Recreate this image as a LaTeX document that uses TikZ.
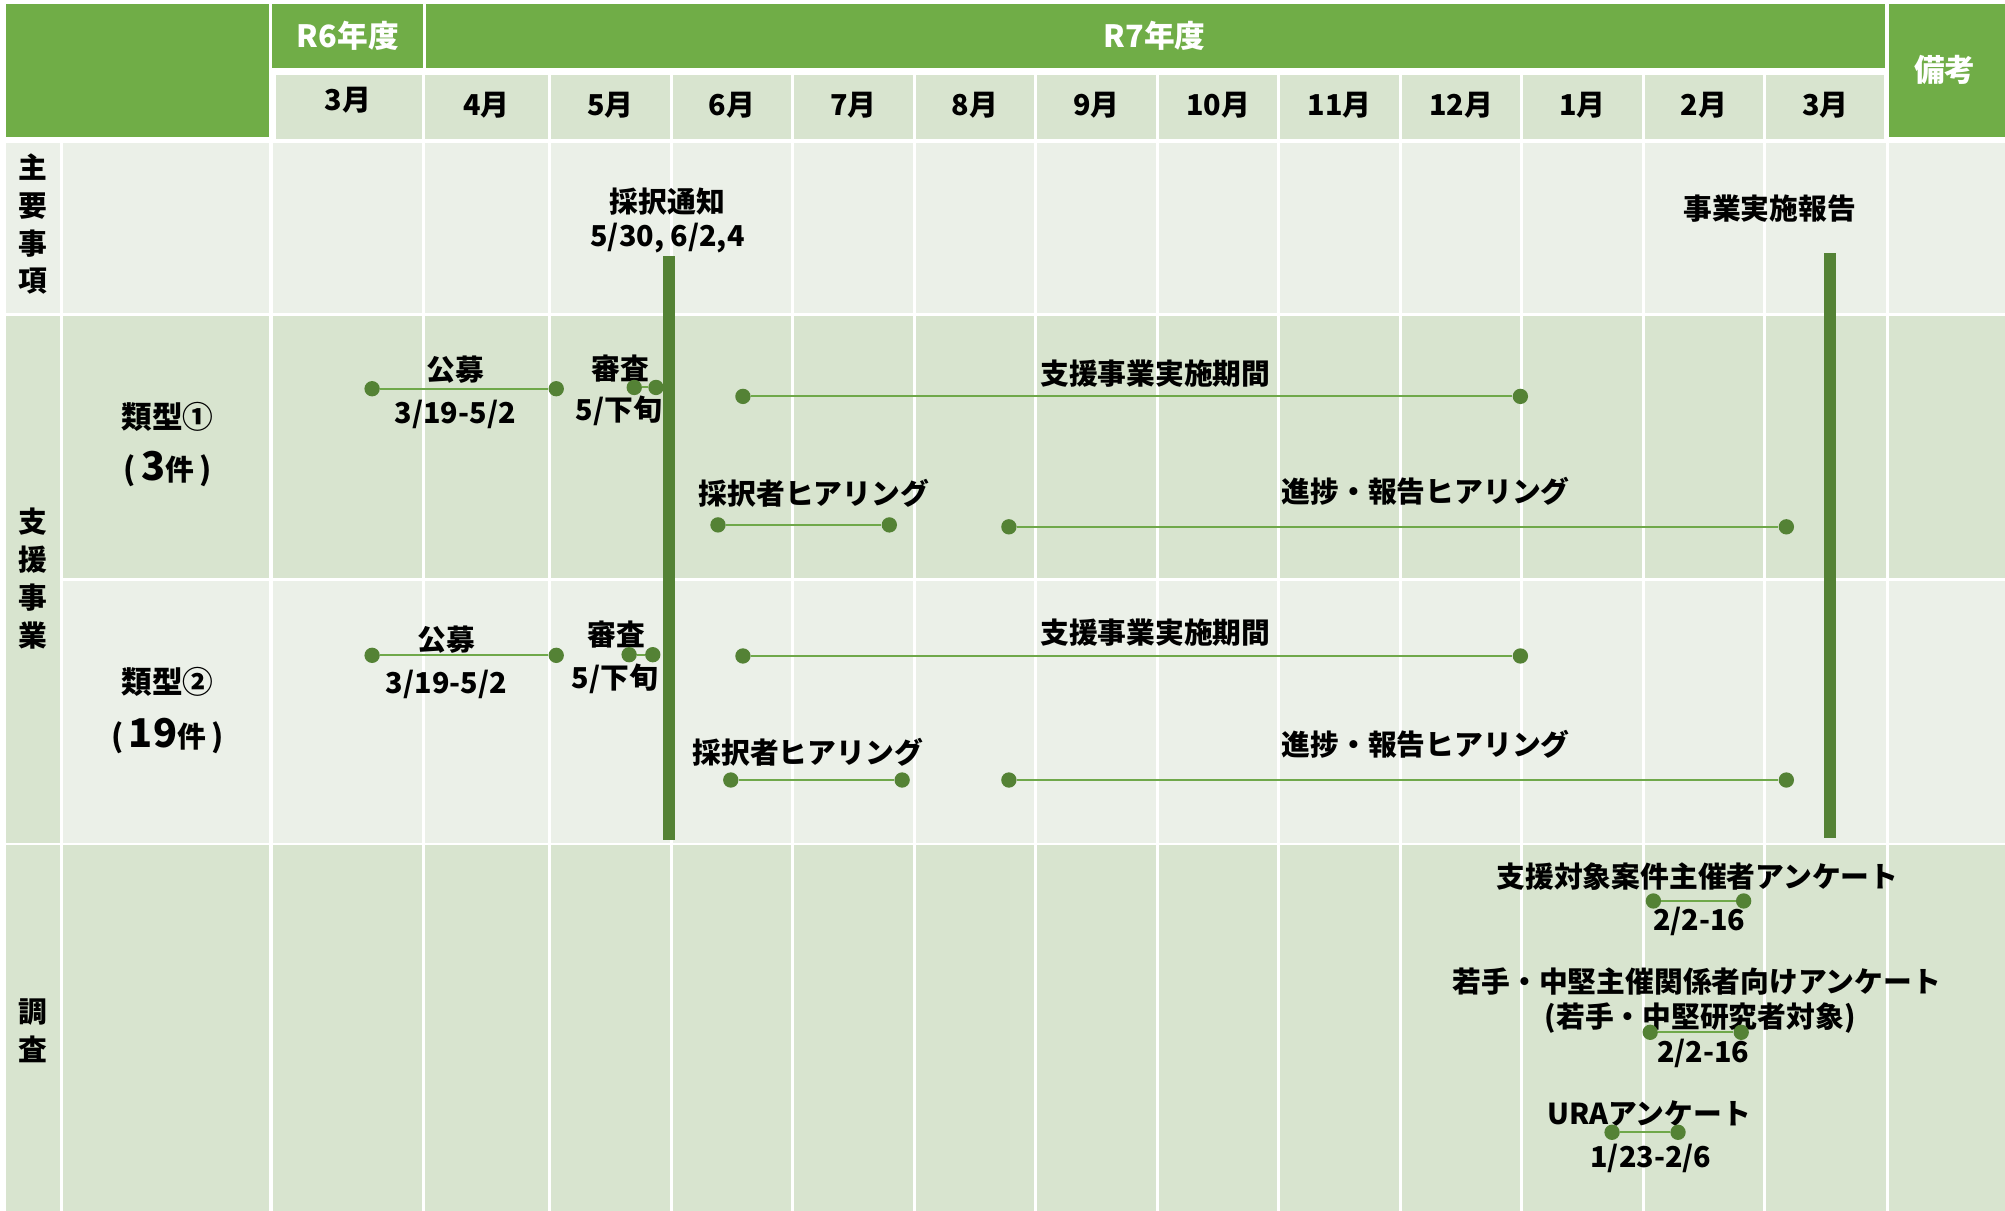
\documentclass[tikz,border=0pt]{standalone}
\usepackage{fontspec}
\setmainfont{Noto Sans CJK JP}
\definecolor{hdrg}{HTML}{70AD47}
\definecolor{medc}{HTML}{D8E4CF}
\definecolor{lightc}{HTML}{EBF0E8}
\definecolor{dkg}{HTML}{548235}
\definecolor{lng}{HTML}{6FA84A}
\tikzset{
  lbl/.style={font=\fontsize{22.5}{26}\selectfont\bfseries, inner sep=0pt, anchor=center, text=black},
  hdr/.style={lbl, text=white, font=\fontsize{24}{28}\selectfont\bfseries},
  mon/.style={lbl},
  vlbl/.style={inner sep=0pt, align=center, font=\fontsize{22.5}{29.5}\selectfont\bfseries},
  dot/.style={circle, fill=dkg, inner sep=0pt, minimum size=12pt},
  span/.style={draw=lng, line width=1.6pt},
  gridw/.style={draw=white, line width=2.5pt},
}
\begin{document}
\begin{tikzpicture}[x=1pt,y=-1pt]
\useasboundingbox (0,0) rectangle (1568,947);
\fill[white] (0,0) rectangle (1568,947);
% header cells
\fill[hdrg] (5,3) rectangle (210,107);
\fill[hdrg] (213,3) rectangle (331,53);
\fill[hdrg] (333,3) rectangle (1474,53);
\fill[hdrg] (1477,3) rectangle (1568,107);
\fill[medc] (216,59) rectangle (1473,109);
% body rows
\fill[lightc] (5,112) rectangle (1568,245);
\fill[medc] (5,247) rectangle (1568,452);
\fill[lightc] (49,454) rectangle (1568,659);
\fill[medc] (5,452) rectangle (47,659);
\fill[medc] (5,661) rectangle (1568,947);
% grid lines
\foreach \x in {331.5,430,525,620,715,810,905,1000,1095,1190,1285,1380}
  \draw[gridw] (\x,59) -- (\x,947);
\foreach \x in {48,212,1476}
  \draw[gridw] (\x,112) -- (\x,947);
% header texts
\node[hdr] (r6) at (272,28) {R6年度};
\node[hdr] (r7) at (903,28) {R7年度};
\node[hdr] (biko) at (1521,55) {備考};
\node[mon] (m3a) at (272,78) {3月};
\node[mon] (m4) at (380.5,82.5) {4月};
\node[mon] (m5) at (477.5,82.5) {5月};
\node[mon] (m6) at (572.5,82.5) {6月};
\node[mon] (m7) at (667.5,82.5) {7月};
\node[mon] (m8) at (762.5,82.5) {8月};
\node[mon] (m9) at (857.5,82.5) {9月};
\node[mon] (m10) at (952.5,82.5) {10月};
\node[mon] (m11) at (1047.5,82.5) {11月};
\node[mon] (m12) at (1142.5,82.5) {12月};
\node[mon] (m1) at (1237.5,82.5) {1月};
\node[mon] (m2) at (1332.5,82.5) {2月};
\node[mon] (m3b) at (1427.5,82.5) {3月};
% left labels
\node[vlbl] (shuyo) at (26,175.5) {主\\要\\事\\項};
\node[vlbl] (shien) at (26,452.5) {支\\援\\事\\業};
\node[vlbl] (chosa) at (26,806) {調\\査};
\node[lbl, font=\fontsize{24}{28}\selectfont\bfseries] (t1) at (131,326) {類型①};
\node[lbl] (t1n) at (131,367) {\fontsize{24}{28}\selectfont(\,\fontsize{31}{31}\selectfont 3\fontsize{22.5}{26}\selectfont 件\fontsize{24}{28}\selectfont\,)};
\node[lbl, font=\fontsize{24}{28}\selectfont\bfseries] (t2) at (131,533.5) {類型②};
\node[lbl] (t2n) at (131,575.5) {\fontsize{24}{28}\selectfont(\,\fontsize{31}{31}\selectfont 19\fontsize{22.5}{26}\selectfont 件\fontsize{24}{28}\selectfont\,)};
% main items
\node[lbl] (tsuchi) at (522,158) {採択通知};
\node[lbl] (tsuchid) at (522,186) {5/30, 6/2,4};
\node[lbl] (hokoku) at (1384,163) {事業実施報告};
\fill[dkg] (518.5,200) rectangle (527.5,657);
\fill[dkg] (1426.5,198) rectangle (1435.5,655);
% row 1
\node[lbl] (k1l) at (356,289) {公募};
\node[lbl] (k1d) at (356,324) {3/19-5/2};
\node[lbl] (s1l) at (485,288) {審査};
\node[lbl] (s1d) at (484,321.5) {5/下旬};
\node[lbl] (j1l) at (903.5,292.5) {支援事業実施期間};
\node[lbl] (h1l) at (636.5,385.5) {採択者ヒアリング};
\node[lbl] (p1l) at (1115,384) {進捗・報告ヒアリング};
\node[dot] (k1a) at (291,304) {};
\node[dot] (k1b) at (435,304) {};
\draw[span] (k1a) -- (k1b);
\node[dot] (s1a) at (496,303) {};
\node[dot] (s1b) at (513,303) {};
\draw[span] (s1a) -- (s1b);
\node[dot] (j1a) at (581,310) {};
\node[dot] (j1b) at (1189,310) {};
\draw[span] (j1a) -- (j1b);
\node[dot] (h1a) at (561.5,410.5) {};
\node[dot] (h1b) at (695.5,410.5) {};
\draw[span] (h1a) -- (h1b);
\node[dot] (p1a) at (789,412) {};
\node[dot] (p1b) at (1397,412) {};
\draw[span] (p1a) -- (p1b);
% row 2
\node[lbl] (k2l) at (349,500) {公募};
\node[lbl] (k2d) at (349,535) {3/19-5/2};
\node[lbl] (s2l) at (482,496) {審査};
\node[lbl] (s2d) at (481,530.5) {5/下旬};
\node[lbl] (j2l) at (903.5,494.5) {支援事業実施期間};
\node[lbl] (h2l) at (631.7,588) {採択者ヒアリング};
\node[lbl] (p2l) at (1115,582) {進捗・報告ヒアリング};
\node[dot] (k2a) at (291,512.5) {};
\node[dot] (k2b) at (435,512.5) {};
\draw[span] (k2a) -- (k2b);
\node[dot] (s2a) at (492,512) {};
\node[dot] (s2b) at (510.5,512) {};
\draw[span] (s2a) -- (s2b);
\node[dot] (j2a) at (581,513) {};
\node[dot] (j2b) at (1189,513) {};
\draw[span] (j2a) -- (j2b);
\node[dot] (h2a) at (571.5,610) {};
\node[dot] (h2b) at (705.5,610) {};
\draw[span] (h2a) -- (h2b);
\node[dot] (p2a) at (789,610) {};
\node[dot] (p2b) at (1397,610) {};
\draw[span] (p2a) -- (p2b);
% survey
\node[lbl] (q1l) at (1327.5,685.6) {支援対象案件主催者アンケート};
\node[lbl] (q1d) at (1329,720.8) {2/2-16};
\node[dot] (q1a) at (1293,704.6) {};
\node[dot] (q1b) at (1363.6,704.6) {};
\draw[span] (q1a) -- (q1b);
\node[lbl] (q2l) at (1327,767.7) {若手・中堅主催関係者向けアンケート};
\node[lbl] (q2s) at (1329.6,796) {(若手・中堅研究者対象)};
\node[lbl] (q2d) at (1332,823.7) {2/2-16};
\node[dot] (q2a) at (1290.5,807.3) {};
\node[dot] (q2b) at (1361.7,807.3) {};
\draw[span] (q2a) -- (q2b);
\node[lbl] (q3l) at (1289.6,870.6) {URAアンケート};
\node[lbl] (q3d) at (1291,905.8) {1/23-2/6};
\node[dot] (q3a) at (1260.7,885.5) {};
\node[dot] (q3b) at (1312.3,885.5) {};
\draw[span] (q3a) -- (q3b);
\end{tikzpicture}
\end{document}
